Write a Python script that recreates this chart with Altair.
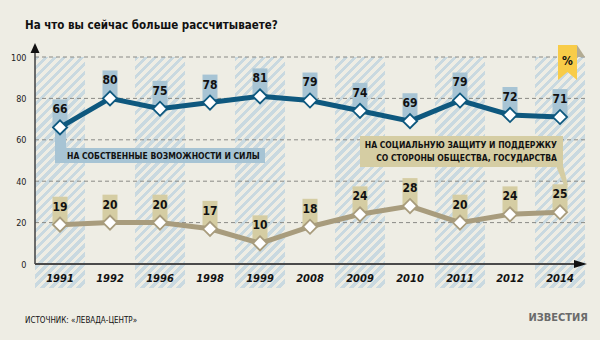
import altair as alt
import pandas as pd

# ---- data ----
years = ["1991", "1992", "1996", "1998", "1999", "2008", "2009", "2010", "2011", "2012", "2014"]
own_forces = [66, 80, 75, 78, 81, 79, 74, 69, 79, 72, 71]
social_support = [19, 20, 20, 17, 10, 18, 24, 28, 20, 24, 25]
hatched_years = ["1991", "1996", "1999", "2009", "2011", "2014"]
y_ticks = [0, 20, 40, 60, 80, 100]
grid_values = [20, 40, 60, 80, 100]

series_names = ["own", "social"]
line_colors = ["#0E587E", "#A89C7D"]
box_colors = ["#A7C4D4", "#D5CDA3"]

title_text = "На что вы сейчас больше рассчитываете?"
label_own = "НА СОБСТВЕННЫЕ ВОЗМОЖНОСТИ И СИЛЫ"
label_social = ["НА СОЦИАЛЬНУЮ ЗАЩИТУ И ПОДДЕРЖКУ", "СО СТОРОНЫ ОБЩЕСТВА, ГОСУДАРСТВА"]
source_text = "ИСТОЧНИК: «ЛЕВАДА-ЦЕНТР»"
logo_text = "ИЗВЕСТИЯ"
unit_text = "%"

FONT = "DejaVu Sans Condensed, sans-serif"
BG = "#EEEDE4"
STRIPE = "#C9D9E0"

rows = []
for y, a, b in zip(years, own_forces, social_support):
    rows.append({"year": y, "value": a, "series": "own"})
    rows.append({"year": y, "value": b, "series": "social"})
df = pd.DataFrame(rows)

xscale = alt.Scale(type="band", domain=years, paddingInner=0, paddingOuter=0)
yscale = alt.Scale(domain=[0, 100], nice=False, zero=True)
x_axis = alt.Axis(title=None, domain=False, ticks=False, labelAngle=0, labelPadding=8,
                  labelFont=FONT, labelFontSize=11, labelFontWeight="bold",
                  labelFontStyle="italic", labelColor="#111")
y_axis = alt.Axis(values=y_ticks, title=None, domain=False, ticks=False, grid=False,
                  labelPadding=9, labelFont=FONT, labelFontSize=9, labelColor="#222")
X = alt.X("year:N", scale=xscale, axis=x_axis)


def Y(field):
    return alt.Y(field, scale=yscale, axis=y_axis)


stroke_enc = alt.Stroke("series:N", scale=alt.Scale(domain=series_names, range=line_colors), legend=None)

# hatch gradient (style only)
n = 31
stops = []
for i in range(n):
    a0, a1, a2 = i / n, (i + 0.5) / n, (i + 1) / n
    stops += [alt.GradientStop(offset=a0, color=STRIPE), alt.GradientStop(offset=a1, color=STRIPE),
              alt.GradientStop(offset=a1, color=BG), alt.GradientStop(offset=a2, color=BG)]
hatch_fill = alt.LinearGradient(gradient="linear", stops=stops, x1=0, y1=0, x2=0.2516, y2=1.162)

hatch = alt.Chart(pd.DataFrame({"year": hatched_years})).mark_rect(fill=hatch_fill).encode(
    x=X, y=alt.value(0), y2=alt.value(231),
)

grid = alt.Chart(pd.DataFrame({"v": grid_values})).mark_rule(
    color="#8A8A86", strokeDash=[4, 3], strokeWidth=1).encode(
    y=Y("v:Q"), x=alt.value(0), x2=alt.value(550),
)

one = alt.Data(values=[{}])

axis_y_line = alt.Chart(one).mark_rule(color="#4A4A4A", strokeWidth=1.6).encode(
    x=alt.value(0), y=alt.value(-6), y2=alt.value(207))
axis_x_line = alt.Chart(one).mark_rule(color="#4A4A4A", strokeWidth=2).encode(
    x=alt.value(0), x2=alt.value(542), y=alt.value(207))
arrows = alt.Chart(pd.DataFrame({"p": ["M0,-14L4.5,-4L-4.5,-4Z", "M552,207L539,203L539,211Z"]})).mark_point(
    filled=True, size=4, color="#111", opacity=1, strokeWidth=0).encode(
    x=alt.value(0), y=alt.value(0), shape=alt.Shape("p:N", scale=None))

boxes = alt.Chart(df).transform_calculate(top="datum.value + 13.5").mark_bar(size=15).encode(
    x=X, y=Y("value:Q"), y2="top:Q",
    fill=alt.Fill("series:N", scale=alt.Scale(domain=series_names, range=box_colors), legend=None),
)

# callouts
callout_own_box = alt.Chart(one).mark_rect(color=box_colors[0]).encode(
    x=alt.value(25), x2=alt.value(230), y=alt.value(91), y2=alt.value(106))
callout_own_tab = alt.Chart(one).mark_rect(color=box_colors[0]).encode(
    x=alt.value(20), x2=alt.value(31), y=alt.value(68), y2=alt.value(106))
callout_own_text = alt.Chart(one).mark_text(
    align="left", baseline="middle", font=FONT, fontSize=8.5, fontWeight="bold", color="#111").encode(
    x=alt.value(32), y=alt.value(99), text=alt.value(label_own))

callout_soc_box = alt.Chart(one).mark_rect(color=box_colors[1]).encode(
    x=alt.value(325), x2=alt.value(528), y=alt.value(79), y2=alt.value(110))
callout_soc_tail = alt.Chart(one).mark_point(
    filled=True, size=4, color=box_colors[1], opacity=1, strokeWidth=0,
    shape="M521,109L528,109L533,128L529,128Z").encode(x=alt.value(0), y=alt.value(0))
callout_soc_text = alt.Chart(one).mark_text(
    align="right", baseline="middle", font=FONT, fontSize=8.5, fontWeight="bold", color="#111",
    lineHeight=13).encode(
    x=alt.value(522), y=alt.value(88), text=alt.value(label_social))

flag = alt.Chart(one).mark_point(
    filled=True, size=4, color="#F8CC48", opacity=1, strokeWidth=0,
    shape="M523,-12L542,-12L542,23L532.5,15L523,23Z").encode(x=alt.value(0), y=alt.value(0))
flag_fold = alt.Chart(one).mark_point(
    filled=True, size=4, color="#B3AC93", opacity=1, strokeWidth=0,
    shape="M542,-12L550,0L542,0Z").encode(x=alt.value(0), y=alt.value(0))
flag_text = alt.Chart(one).mark_text(
    align="center", baseline="middle", font=FONT, fontSize=12, fontWeight="bold", color="#111").encode(
    x=alt.value(532.5), y=alt.value(4), text=alt.value(unit_text))

lines = alt.Chart(df).mark_line(strokeWidth=5).encode(
    x=X, y=Y("value:Q"), stroke=stroke_enc, detail="series:N")

points = alt.Chart(df).mark_point(shape="diamond", filled=False, fill="white", fillOpacity=1,
                                  opacity=1, size=200, strokeWidth=1.8).encode(
    x=X, y=Y("value:Q"), stroke=stroke_enc)

labels = alt.Chart(df).mark_text(dy=-18, font=FONT, fontSize=12, fontWeight="bold", color="#111").encode(
    x=X, y=Y("value:Q"), text="value:Q")

title = alt.Chart(one).mark_text(
    align="left", baseline="middle", font=FONT, fontSize=11.5, fontWeight="bold", color="#111").encode(
    x=alt.value(-10), y=alt.value(-31), text=alt.value(title_text))
source = alt.Chart(one).mark_text(
    align="left", baseline="middle", font=FONT, fontSize=8, color="#111").encode(
    x=alt.value(-10), y=alt.value(264), text=alt.value(source_text))
logo = alt.Chart(one).mark_text(
    align="right", baseline="middle", font=FONT, fontSize=11, fontWeight="bold", color="#6A6A6A").encode(
    x=alt.value(553), y=alt.value(261), text=alt.value(logo_text))

chart = alt.layer(
    hatch, grid, axis_y_line, axis_x_line, arrows,
    callout_own_tab, callout_own_box, callout_soc_tail, callout_soc_box,
    boxes, lines, points, labels,
    callout_own_text, callout_soc_text, flag, flag_fold, flag_text,
    title, source, logo,
).properties(
    width=550, height=207, background=BG,
    autosize=alt.AutoSizeParams(type="none"),
    padding={"left": 35, "top": 57, "right": 15, "bottom": 76},
).configure_view(stroke=None)

chart.save("out.html", embed_options={"renderer": "svg", "actions": False})
